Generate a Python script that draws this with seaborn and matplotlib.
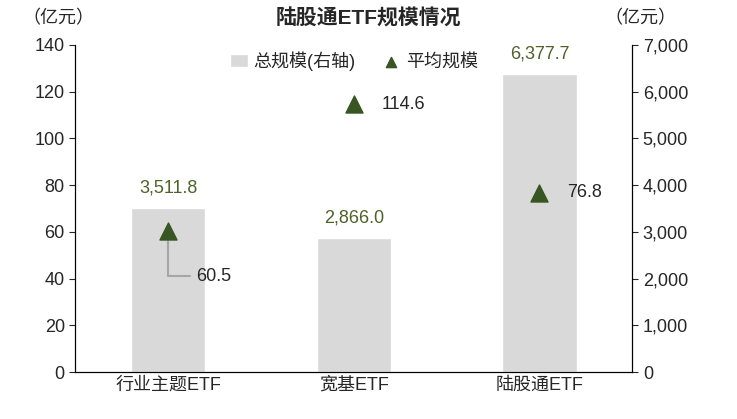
import matplotlib
matplotlib.use("Agg")
import matplotlib.pyplot as plt
import seaborn as sns
import pandas as pd

categorias = ["行业主题ETF", "宽基ETF", "陆股通ETF"]
total_scale = [3511.8, 2866.0, 6377.7]
avg_scale = [60.5, 114.6, 76.8]

sns.set_style("white")
plt.rcParams['font.family'] = ['Liberation Sans', 'Noto Sans CJK SC', 'DejaVu Sans']

df = pd.DataFrame({"cat": categorias, "total": total_scale, "avg": avg_scale})

fig, ax = plt.subplots(figsize=(7.37, 4.19), dpi=100)
fig.subplots_adjust(left=0.102, right=0.858, top=0.893, bottom=0.112)
ax2 = ax.twinx()

sns.barplot(data=df, x="cat", y="total", color="#d9d9d9", width=0.4, ax=ax2,
            saturation=1, label="总规模(右轴)")
ax2.set_ylim(0, 7000)
ax2.set_yticks(range(0, 7001, 1000))
ax2.set_yticklabels([f"{v:,}" for v in range(0, 7001, 1000)], fontsize=13)
for i, v in enumerate(total_scale):
    ax2.text(i, v + 250, f"{v:,.1f}", ha="center", va="bottom", color="#4f6228", fontsize=13)

ax.set_zorder(ax2.get_zorder() + 1)
ax.patch.set_visible(False)
ax.scatter(range(3), avg_scale, marker="^", s=150, color="#375623", zorder=5, label="平均规模")
ax.set_ylim(0, 140)
ax.set_xlim(-0.5, 2.5)
ax.set_yticks(range(0, 141, 20))
ax.tick_params(axis="y", labelsize=13, direction="out", length=4, left=True)
ax.set_xticks(range(3))
ax.set_xticklabels(categorias, fontsize=13)
ax.tick_params(axis="x", length=0)
ax2.tick_params(axis="y", direction="out", length=4, right=True)
ax.set_xlabel("")
ax.set_ylabel("")
ax2.set_xlabel("")
ax2.set_ylabel("")

ax.annotate(f"{avg_scale[0]}", xy=(0, avg_scale[0]), xytext=(0.15, 41),
            fontsize=13, va="center",
            arrowprops=dict(arrowstyle="-", color="#a6a6a6", lw=1.5,
                            connectionstyle="angle,angleA=0,angleB=90"))
ax.text(1.15, avg_scale[1], f"{avg_scale[1]}", fontsize=13, va="center")
ax.text(2.15, avg_scale[2], f"{avg_scale[2]}", fontsize=13, va="center")

for a in (ax, ax2):
    a.spines["top"].set_visible(False)
    for s in ("left", "right", "bottom"):
        a.spines[s].set_color("black")

fig.text(0.5, 0.955, "陆股通ETF规模情况", ha="center", va="center", fontsize=15, fontweight="bold")
fig.text(0.03, 0.955, "（亿元）", fontsize=13, va="center")
fig.text(0.82, 0.955, "（亿元）", fontsize=13, va="center")

h1, l1 = ax2.get_legend_handles_labels()
h2, l2 = ax.get_legend_handles_labels()
if ax2.get_legend():
    ax2.get_legend().remove()
ax.legend(h1 + h2, l1 + l2, loc="upper center", bbox_to_anchor=(0.5, 1.03), ncol=2,
          frameon=False, fontsize=13, handlelength=1, handletextpad=0.3, columnspacing=1.5,
          markerscale=0.6)

fig.savefig("out.png", dpi=100)
